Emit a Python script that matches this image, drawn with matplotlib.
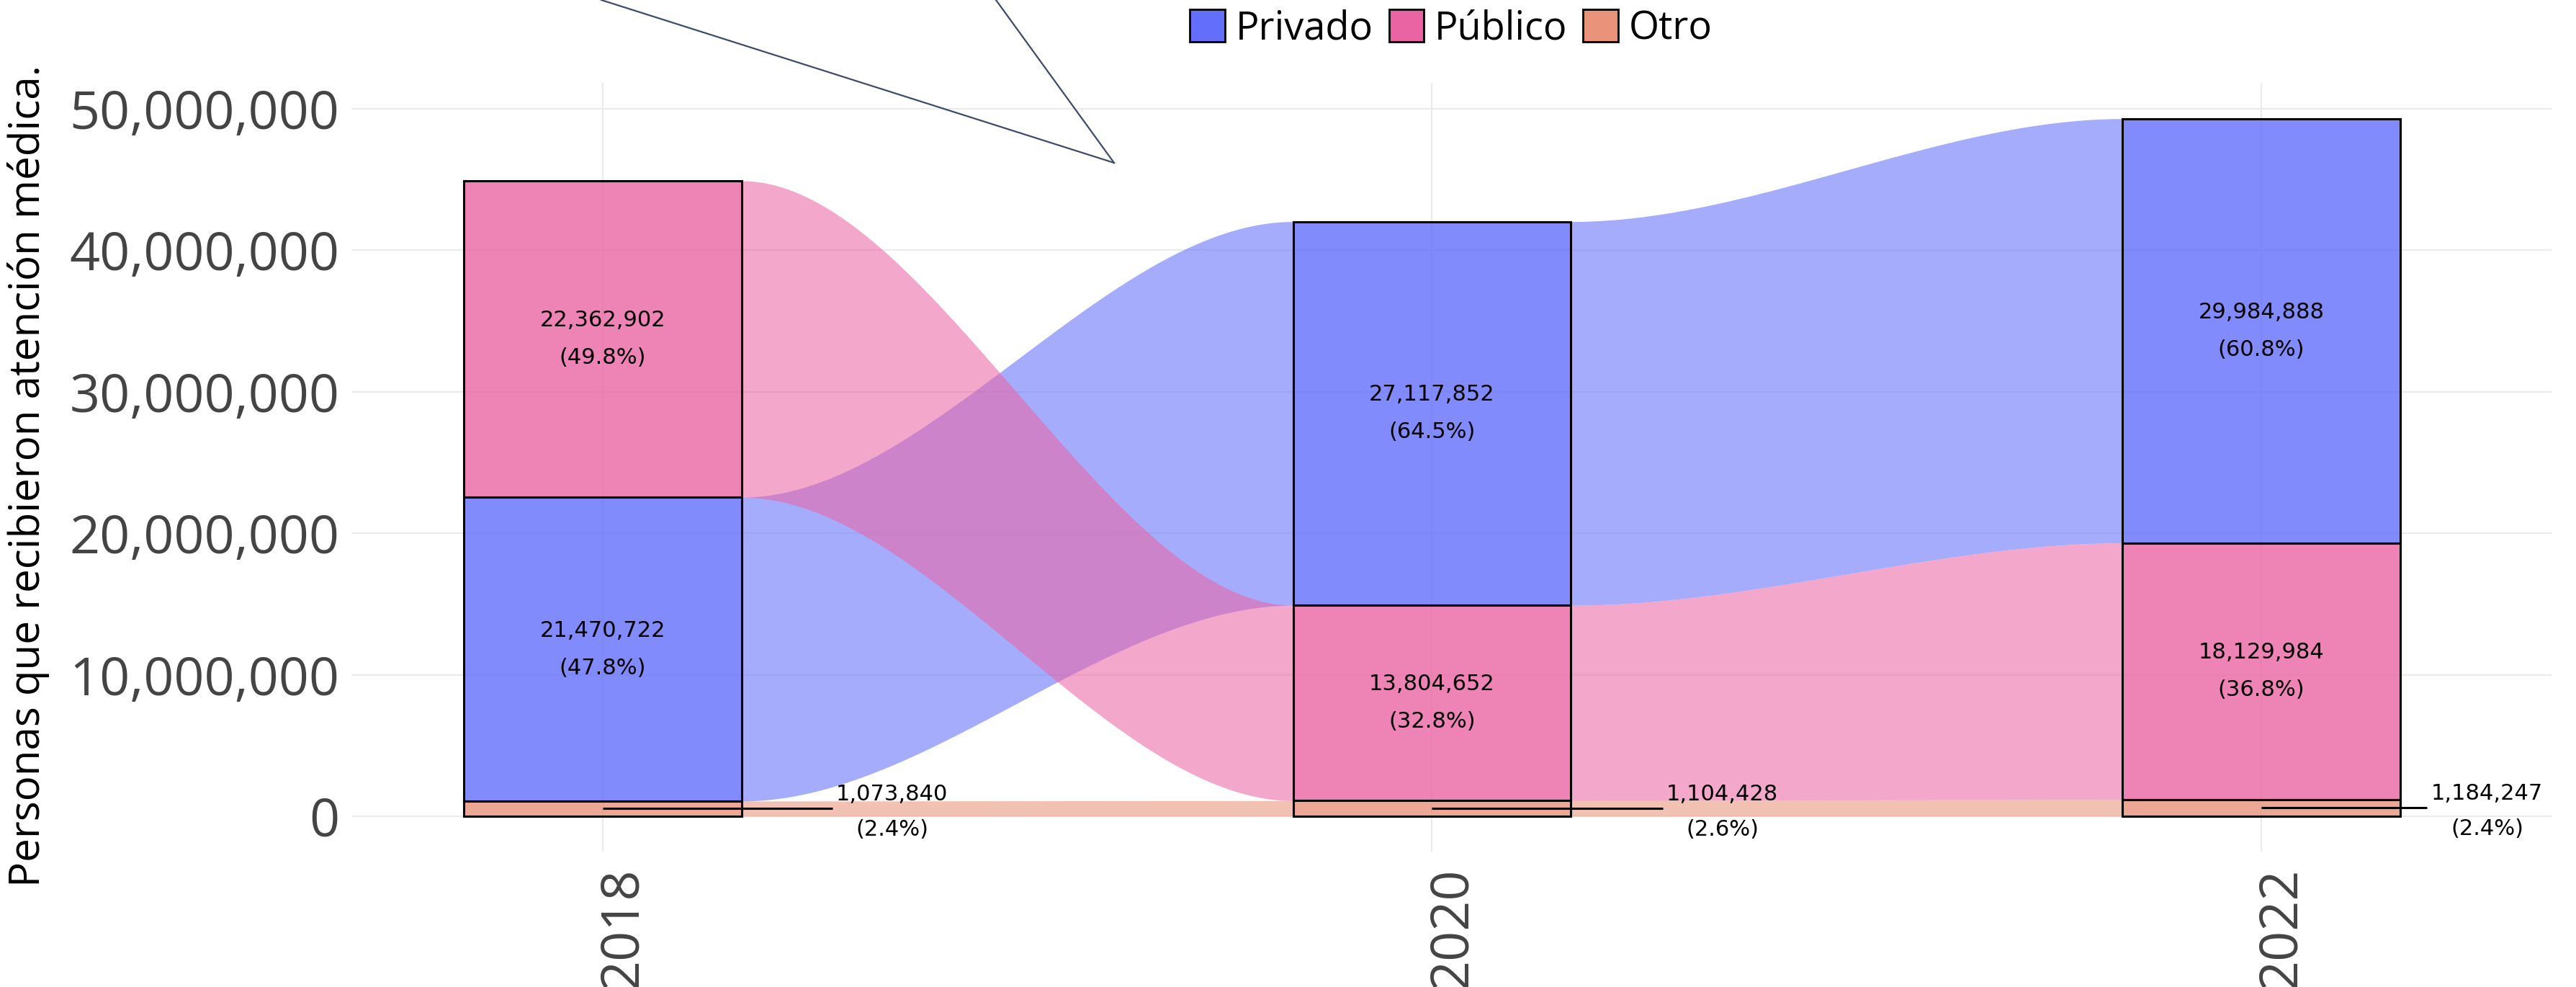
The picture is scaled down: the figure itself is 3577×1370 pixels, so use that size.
import numpy as np
import matplotlib
matplotlib.use('Agg')
import matplotlib.pyplot as plt
from matplotlib.patches import Rectangle, Patch
from matplotlib.lines import Line2D
from matplotlib.ticker import FuncFormatter
from matplotlib.transforms import blended_transform_factory
from matplotlib.colors import to_rgba

# ---------------- data ----------------
years = [2018, 2020, 2022]
categories = ['Privado', 'Público', 'Otro']
privado = [21470722, 27117852, 29984888]
publico = [22362902, 13804652, 18129984]
otro = [1073840, 1104428, 1184247]
y_ticks = [0, 10000000, 20000000, 30000000, 40000000, 50000000]

# ---------------- style ----------------
plt.rcParams['font.family'] = ['Open Sans', 'DejaVu Sans']
colors = {'Privado': '#636EFA', 'Público': '#EA64A4', 'Otro': '#E8937A'}
values = {'Privado': privado, 'Público': publico, 'Otro': otro}
bar_w = 0.67
hw = bar_w / 2
flow_alpha = 0.57
bar_alpha = 0.8
# leader line / label offsets for the small "Otro" category (x in years)
otro_line_end = [0.554, 0.557, 0.40]
otro_text_x = [0.698, 0.70, 0.545]

W, H = 3577, 1370
fig = plt.figure(figsize=(W / 100, H / 100), dpi=100)
ax = fig.add_axes([488 / W, 1 - 1182 / H, (3543 - 488) / W, (1182 - 115) / H])
ax.set_xlim(2017.394, 2022.70)
ax.set_ylim(-2.495e6, 51.83e6)
for s in ax.spines.values():
    s.set_visible(False)

ax.set_yticks(y_ticks)
ax.yaxis.set_major_formatter(FuncFormatter(lambda v, p: f'{int(v):,}'))
ax.tick_params(axis='y', length=0, pad=12, labelsize=53, labelcolor='#444444')
ax.set_xticks(years)
ax.set_xticklabels([])
ax.tick_params(axis='x', length=0)
ax.grid(True, color='#EBEBEB', lw=1.6)
ax.set_axisbelow(True)

# stacking: smallest at bottom in each year
stacks = []
for i, yr in enumerate(years):
    order = sorted(categories, key=lambda c: values[c][i])
    pos = {}
    base = 0
    for c in order:
        v = values[c][i]
        pos[c] = (base, base + v)
        base += v
    stacks.append((pos, base))

# ---------------- flows ----------------
t = np.linspace(0, 1, 300)
s = t * t * (3 - 2 * t)
flow_order = ['Otro', 'Privado', 'Público']
for i in range(len(years) - 1):
    x0 = years[i] + hw
    x1 = years[i + 1] - hw
    xx = x0 + t * (x1 - x0)
    for c in flow_order:
        b0, t0 = stacks[i][0][c]
        b1, t1 = stacks[i + 1][0][c]
        lo = b0 + s * (b1 - b0)
        hi = t0 + s * (t1 - t0)
        ax.fill_between(xx, lo, hi, color=colors[c], alpha=flow_alpha, lw=0, zorder=2)

# ---------------- bars + labels ----------------
tr = blended_transform_factory(ax.transData, ax.transAxes)
for i, yr in enumerate(years):
    pos, total = stacks[i]
    for c in categories:
        b, tp = pos[c]
        ax.add_patch(Rectangle((yr - hw, b), bar_w, tp - b,
                               facecolor=to_rgba(colors[c], bar_alpha),
                               edgecolor='black', lw=2.2, zorder=3))
        v = values[c][i]
        pct = f'({v / total * 100:.1f}%)'
        mid = (b + tp) / 2
        if c != 'Otro':
            ax.annotate(f'{v:,}', (yr, mid), xytext=(0, 18.7), textcoords='offset points',
                        ha='center', va='center', fontsize=22, family='DejaVu Sans',
                        color='black', zorder=5)
            ax.annotate(pct, (yr, mid), xytext=(0, -18.7), textcoords='offset points',
                        ha='center', va='center', fontsize=22, family='DejaVu Sans',
                        color='black', zorder=5)
        else:
            ax.plot([yr, yr + otro_line_end[i]], [mid, mid], color='black', lw=2.2,
                    zorder=5, solid_capstyle='butt')
            ax.annotate(f'{v:,}', (yr + otro_text_x[i], mid), xytext=(0, 14.4),
                        textcoords='offset points', ha='center', va='center',
                        fontsize=22, family='DejaVu Sans', color='black', zorder=5)
            ax.annotate(pct, (yr + otro_text_x[i], mid), xytext=(0, -20.9),
                        textcoords='offset points', ha='center', va='center',
                        fontsize=22, family='DejaVu Sans', color='black', zorder=5)

    ax.text(yr + 0.049, -0.0197, str(yr), transform=tr, rotation=90, ha='center',
            va='top', fontsize=53, color='#444444')

# ---------------- axis title ----------------
fig.text(40 / W, 0.518, 'Personas que recibieron atención médica.', rotation=90,
         ha='center', va='center', fontsize=42, color='black')

# ---------------- legend ----------------
handles = [Patch(facecolor=colors[c], edgecolor='black', lw=2) for c in categories]
fig.legend(handles, categories, loc='center', bbox_to_anchor=(0.5633, 0.9708), ncol=3,
           frameon=False, fontsize=39, handlelength=0.9, handleheight=0.9,
           handletextpad=0.27, columnspacing=0.4, borderpad=0, borderaxespad=0)

# ---------------- annotation pointer lines ----------------
arrow_col = '#3D4B6B'
fig.add_artist(Line2D([835 / W, 1547 / W], [1.0, 1 - 226 / H], color=arrow_col, lw=1.6))
fig.add_artist(Line2D([1383 / W, 1547 / W], [1.0, 1 - 226 / H], color=arrow_col, lw=1.6))

fig.savefig('out.png', dpi=100)
